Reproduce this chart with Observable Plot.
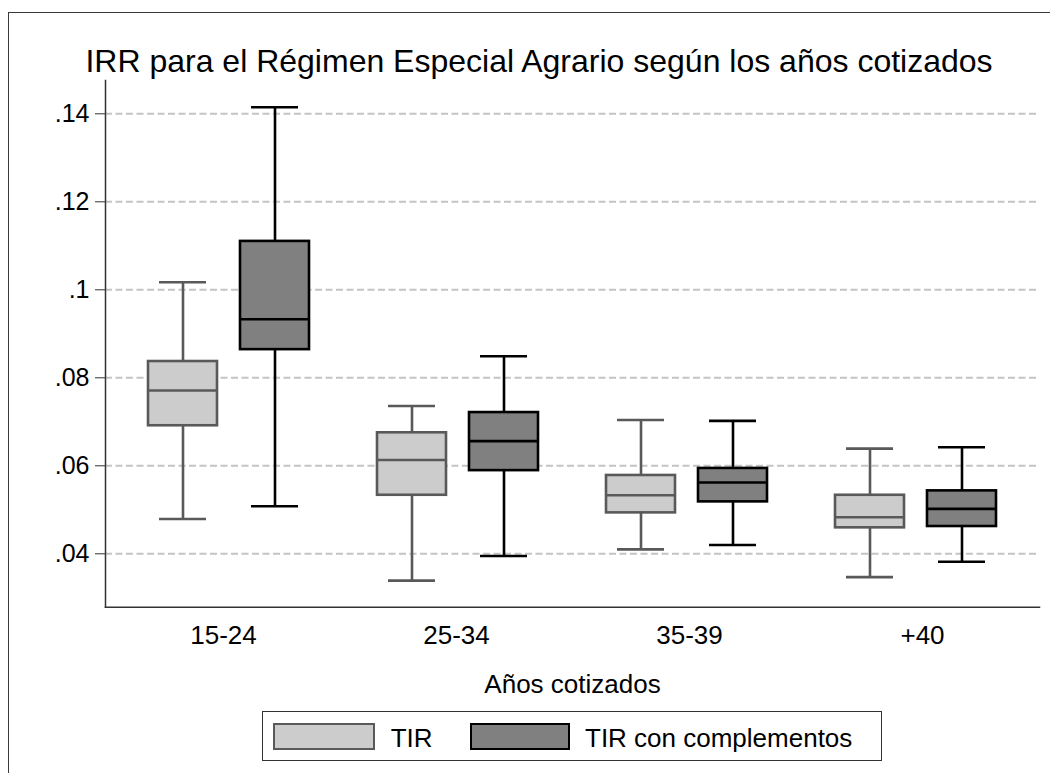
<!DOCTYPE html>
<html>
<head>
<meta charset="utf-8">
<script src="https://cdn.jsdelivr.net/npm/d3@7"></script>
<script src="https://cdn.jsdelivr.net/npm/@observablehq/plot@0.6"></script>
<style>
  html, body { margin: 0; padding: 0; background: #fff; overflow: hidden; }
  #page { position: relative; width: 1050px; height: 773px; overflow: hidden;
          font-family: "Liberation Sans", Arial, sans-serif; color: #000; }
  #border { position: absolute; left: 8px; top: 12px; width: 1100px; height: 800px;
            border-left: 1.5px solid #3a3a3a; border-top: 1.5px solid #3a3a3a; }
  .layer { position: absolute; left: 0; top: 0; }
  #title { position: absolute; left: 0; width: 1078px; top: 45px; text-align: center;
           font-size: 32px; line-height: 32px; white-space: nowrap; }
  #legend { position: absolute; left: 262px; top: 711px; width: 620px; height: 50px;
            border: 1.3px solid #333; box-sizing: border-box; }
  .sw { position: absolute; top: 722.7px; height: 27.3px; box-sizing: border-box; border: 2.5px solid; }
  .lt { position: absolute; top: 724.7px; font-size: 26px; line-height: 26px; white-space: nowrap; }
</style>
</head>
<body>
<div id="page">
  <div id="border"></div>
  <div class="layer" id="axes"></div>
  <div class="layer" id="boxes"></div>
  <div id="title">IRR para el Régimen Especial Agrario según los años cotizados</div>
  <div id="legend"></div>
  <div class="sw" id="sw0" style="left:273.3px;width:101.7px;"></div>
  <div class="lt" id="lt0" style="left:390.7px;"></div>
  <div class="sw" id="sw1" style="left:470px;width:100px;"></div>
  <div class="lt" id="lt1" style="left:585px;"></div>
</div>
<script>
// Contribution-year groups and the two return measures
const groups = ["15-24", "25-34", "35-39", "+40"];
const series = ["TIR", "TIR con complementos"];

// Box-plot statistics (lower whisker, quartiles, median, upper whisker)
const tirLow    = [0.0479, 0.0339, 0.0410, 0.0347];
const tirQ1     = [0.0691, 0.0533, 0.0493, 0.0459];
const tirMedian = [0.0771, 0.0613, 0.0533, 0.0483];
const tirQ3     = [0.0837, 0.0675, 0.0578, 0.0533];
const tirHigh   = [0.1017, 0.0736, 0.0704, 0.0639];

const compLow    = [0.0508, 0.0395, 0.0420, 0.0382];
const compQ1     = [0.0864, 0.0589, 0.0518, 0.0462];
const compMedian = [0.0933, 0.0656, 0.0562, 0.0502];
const compQ3     = [0.1110, 0.0721, 0.0594, 0.0543];
const compHigh   = [0.1415, 0.0849, 0.0702, 0.0642];

// Y axis ticks and their labels
const yTicks = [0.04, 0.06, 0.08, 0.1, 0.12, 0.14];
const yTickLabels = [".04", ".06", ".08", ".1", ".12", ".14"];

const xTitle = "Años cotizados";

// Per-series look
const seriesFill = ["#cccccc", "#808080"];
const seriesStroke = ["#595959", "#000000"];

const stats = [
  [tirLow, tirQ1, tirMedian, tirQ3, tirHigh],
  [compLow, compQ1, compMedian, compQ3, compHigh]
];
const rows = [];
groups.forEach((g, i) => {
  series.forEach((s, k) => {
    const [lo, q1, md, q3, hi] = stats[k];
    rows.push({group: g, series: s, low: lo[i], q1: q1[i], median: md[i], q3: q3[i], high: hi[i]});
  });
});

// Shared frame geometry for both layers
const frame = {
  width: 1050, height: 773,
  marginTop: 80, marginBottom: 166.3, marginLeft: 105, marginRight: 11,
  style: {fontFamily: "'Liberation Sans', Arial, sans-serif", fontSize: "26px", color: "#000", background: "transparent"}
};
const yDomain = [0.02786, 0.14757];
const groupBand = {paddingInner: 0, paddingOuter: 0.032};

// Back layer: grid lines, axis lines, tick labels
const axesChart = Plot.plot({
  ...frame,
  x: {domain: groups, ...groupBand},
  y: {domain: yDomain},
  marks: [
    Plot.ruleY(yTicks, {stroke: "#c4c4c4", strokeWidth: 2, strokeDasharray: "7,3.5"}),
    Plot.axisY(yTicks, {tickSize: 10, tickPadding: 6, fontSize: 25, stroke: "#333",
      tickFormat: d => yTickLabels[yTicks.indexOf(d)], label: null}),
    Plot.axisX({tickSize: 0, tickPadding: 18, fontSize: 26,
      label: xTitle, labelAnchor: "center", labelOffset: 86}),
    Plot.frame({anchor: "left", stroke: "#333", strokeWidth: 1.5}),
    Plot.frame({anchor: "bottom", stroke: "#333", strokeWidth: 1.5})
  ]
});
document.getElementById("axes").appendChild(axesChart);

// Front layer: one facet per group, two boxes per facet
const sw = 2.6;
const boxMarks = series.flatMap((s, k) => {
  const d = rows.filter(r => r.series === s);
  const fill = seriesFill[k], stroke = seriesStroke[k];
  const common = {fx: "group", x: "series", stroke, strokeWidth: sw};
  return [
    Plot.ruleX(d, {...common, y1: "low", y2: "q1"}),
    Plot.ruleX(d, {...common, y1: "q3", y2: "high"}),
    Plot.tickY(d, {...common, y: "low", insetLeft: 11, insetRight: 11}),
    Plot.tickY(d, {...common, y: "high", insetLeft: 11, insetRight: 11}),
    Plot.barY(d, {...common, y1: "q1", y2: "q3", fill}),
    Plot.tickY(d, {...common, y: "median"})
  ];
});

const boxChart = Plot.plot({
  ...frame,
  fx: {domain: groups, ...groupBand, axis: null, label: null},
  x: {domain: series, paddingInner: 0.254, paddingOuter: 0.369, axis: null},
  y: {domain: yDomain, axis: null},
  marks: boxMarks
});
document.getElementById("boxes").appendChild(boxChart);

// Legend
series.forEach((s, k) => {
  const box = document.getElementById("sw" + k);
  box.style.background = seriesFill[k];
  box.style.borderColor = seriesStroke[k];
  document.getElementById("lt" + k).textContent = s;
});
</script>
</body>
</html>
